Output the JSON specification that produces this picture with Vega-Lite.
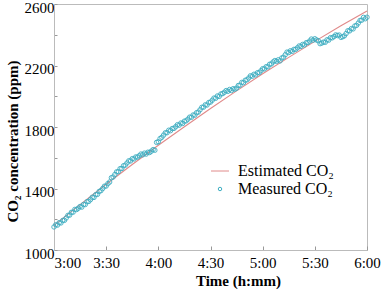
{
  "$schema": "https://vega.github.io/schema/vega-lite/v6.json",
  "width": 313,
  "height": 246,
  "autosize": "none",
  "padding": {"left": 54, "top": 4, "right": 20, "bottom": 41},
  "background": "white",
  "config": {
    "view": {"stroke": "#bbbbbb", "strokeWidth": 1},
    "axis": {
      "grid": false,
      "domainColor": "#bbbbbb",
      "tickColor": "#999999",
      "labelFont": "Liberation Serif",
      "labelFontSize": 15,
      "labelColor": "#000000",
      "titleFont": "Liberation Serif",
      "titleFontSize": 15,
      "titleFontWeight": "bold",
      "titleColor": "#000000"
    }
  },
  "datasets": {
    "estimated": [
      {"time": 180, "co2": 1160}, {"time": 195, "co2": 1295}, {"time": 210, "co2": 1428},
      {"time": 225, "co2": 1556}, {"time": 240, "co2": 1681}, {"time": 255, "co2": 1802},
      {"time": 270, "co2": 1920}, {"time": 285, "co2": 2035}, {"time": 300, "co2": 2146},
      {"time": 315, "co2": 2253}, {"time": 330, "co2": 2357}, {"time": 345, "co2": 2458},
      {"time": 360, "co2": 2555}
    ],
    "measured": [
      {"time":180,"co2":1150},{"time":181,"co2":1164},{"time":182,"co2":1162},{"time":183,"co2":1178},{"time":184,"co2":1176},{"time":185,"co2":1192},{"time":186,"co2":1193},{"time":187,"co2":1208},{"time":188,"co2":1225},{"time":189,"co2":1227},
      {"time":190,"co2":1245},{"time":191,"co2":1246},{"time":192,"co2":1264},{"time":193,"co2":1263},{"time":194,"co2":1272},{"time":195,"co2":1283},{"time":196,"co2":1279},{"time":197,"co2":1296},{"time":198,"co2":1296},{"time":199,"co2":1314},
      {"time":200,"co2":1316},{"time":201,"co2":1328},{"time":202,"co2":1343},{"time":203,"co2":1342},{"time":204,"co2":1360},{"time":205,"co2":1362},{"time":206,"co2":1381},{"time":207,"co2":1386},{"time":208,"co2":1400},{"time":209,"co2":1415},
      {"time":210,"co2":1416},{"time":211,"co2":1432},{"time":212,"co2":1442},{"time":213,"co2":1470},{"time":214,"co2":1475},{"time":215,"co2":1491},{"time":216,"co2":1508},{"time":217,"co2":1510},{"time":218,"co2":1529},{"time":219,"co2":1530},
      {"time":220,"co2":1548},{"time":221,"co2":1552},{"time":222,"co2":1566},{"time":223,"co2":1580},{"time":224,"co2":1579},{"time":225,"co2":1594},{"time":226,"co2":1592},{"time":227,"co2":1605},{"time":228,"co2":1604},{"time":229,"co2":1613},
      {"time":230,"co2":1624},{"time":231,"co2":1619},{"time":232,"co2":1630},{"time":233,"co2":1624},{"time":234,"co2":1636},{"time":235,"co2":1634},{"time":236,"co2":1643},{"time":237,"co2":1653},{"time":238,"co2":1649},{"time":239,"co2":1700},
      {"time":240,"co2":1704},{"time":241,"co2":1725},{"time":242,"co2":1733},{"time":243,"co2":1747},{"time":244,"co2":1762},{"time":245,"co2":1763},{"time":246,"co2":1779},{"time":247,"co2":1776},{"time":248,"co2":1790},{"time":249,"co2":1791},
      {"time":250,"co2":1802},{"time":251,"co2":1815},{"time":252,"co2":1812},{"time":253,"co2":1826},{"time":254,"co2":1823},{"time":255,"co2":1838},{"time":256,"co2":1840},{"time":257,"co2":1851},{"time":258,"co2":1864},{"time":259,"co2":1863},
      {"time":260,"co2":1878},{"time":261,"co2":1877},{"time":262,"co2":1893},{"time":263,"co2":1897},{"time":264,"co2":1912},{"time":265,"co2":1928},{"time":266,"co2":1929},{"time":267,"co2":1944},{"time":268,"co2":1943},{"time":269,"co2":1959},
      {"time":270,"co2":1962},{"time":271,"co2":1974},{"time":272,"co2":1988},{"time":273,"co2":1987},{"time":274,"co2":2002},{"time":275,"co2":1999},{"time":276,"co2":2015},{"time":277,"co2":2017},{"time":278,"co2":2026},{"time":279,"co2":2037},
      {"time":280,"co2":2032},{"time":281,"co2":2044},{"time":282,"co2":2037},{"time":283,"co2":2049},{"time":284,"co2":2046},{"time":285,"co2":2053},{"time":286,"co2":2070},{"time":287,"co2":2072},{"time":288,"co2":2090},{"time":289,"co2":2088},
      {"time":290,"co2":2104},{"time":291,"co2":2107},{"time":292,"co2":2119},{"time":293,"co2":2133},{"time":294,"co2":2130},{"time":295,"co2":2143},{"time":296,"co2":2139},{"time":297,"co2":2153},{"time":298,"co2":2154},{"time":299,"co2":2166},
      {"time":300,"co2":2179},{"time":301,"co2":2178},{"time":302,"co2":2192},{"time":303,"co2":2191},{"time":304,"co2":2208},{"time":305,"co2":2210},{"time":306,"co2":2223},{"time":307,"co2":2232},{"time":308,"co2":2227},{"time":309,"co2":2237},
      {"time":310,"co2":2230},{"time":311,"co2":2249},{"time":312,"co2":2254},{"time":313,"co2":2270},{"time":314,"co2":2287},{"time":315,"co2":2284},{"time":316,"co2":2296},{"time":317,"co2":2292},{"time":318,"co2":2305},{"time":319,"co2":2305},
      {"time":320,"co2":2315},{"time":321,"co2":2327},{"time":322,"co2":2324},{"time":323,"co2":2337},{"time":324,"co2":2334},{"time":325,"co2":2348},{"time":326,"co2":2349},{"time":327,"co2":2359},{"time":328,"co2":2372},{"time":329,"co2":2365},
      {"time":330,"co2":2374},{"time":331,"co2":2366},{"time":332,"co2":2361},{"time":333,"co2":2342},{"time":334,"co2":2346},{"time":335,"co2":2352},{"time":336,"co2":2351},{"time":337,"co2":2367},{"time":338,"co2":2365},{"time":339,"co2":2381},
      {"time":340,"co2":2380},{"time":341,"co2":2388},{"time":342,"co2":2399},{"time":343,"co2":2395},{"time":344,"co2":2398},{"time":345,"co2":2383},{"time":346,"co2":2387},{"time":347,"co2":2393},{"time":348,"co2":2408},{"time":349,"co2":2426},
      {"time":350,"co2":2425},{"time":351,"co2":2440},{"time":352,"co2":2438},{"time":353,"co2":2457},{"time":354,"co2":2461},{"time":355,"co2":2476},{"time":356,"co2":2493},{"time":357,"co2":2495},{"time":358,"co2":2513},{"time":359,"co2":2504},
      {"time":360,"co2":2514}
    ]
  },
  "encoding": {
    "x": {
      "field": "time",
      "type": "quantitative",
      "scale": {"domain": [180, 360], "nice": false, "zero": false},
      "axis": {
        "title": "Time (h:mm)",
        "values": [180, 210, 240, 270, 300, 330, 360],
        "labelExpr": "floor(datum.value / 60) + ':' + (datum.value % 60 < 10 ? '0' : '') + (datum.value % 60)",
        "labelFlush": false,
        "labelAlign": {"condition": {"test": "datum.value == 180", "value": "left"}, "value": "center"},
        "tickSize": -4,
        "labelPadding": 9,
        "titlePadding": 3,
        "titleX": 184,
        "titleAlign": "center"
      }
    },
    "y": {
      "field": "co2",
      "type": "quantitative",
      "scale": {"domain": [1000, 2600], "nice": false, "zero": false},
      "axis": {
        "title": "CO₂ concentration (ppm)",
        "values": [1000, 1200, 1400, 1600, 1800, 2000, 2200, 2400, 2600],
        "labelExpr": "datum.value % 400 == 200 ? datum.label : ''",
        "format": "d",
        "labelFlush": false,
        "labelOffset": 3,
        "tickSize": -3,
        "labelPadding": 3,
        "titleX": -37,
        "titleY": 137,
        "titleAngle": -90,
        "titleBaseline": "alphabetic",
        "titleAlign": "center"
      }
    }
  },
  "layer": [
    {
      "data": {"name": "estimated"},
      "mark": {"type": "line", "strokeWidth": 1.1},
      "encoding": {
        "color": {
          "datum": "Estimated CO₂",
          "scale": {"domain": ["Estimated CO₂", "Measured CO₂"], "range": ["#e08a8a", "#3eaec2"]},
          "legend": {
            "title": null,
            "orient": "none",
            "legendX": 158,
            "legendY": 159,
            "padding": 0,
            "rowPadding": 2,
            "symbolSize": 324,
            "labelOffset": 10,
            "labelFont": "Liberation Serif",
            "labelFontSize": 16,
            "labelColor": "#000000",
            "encode": {
              "symbols": {
                "update": {
                  "shape": {"signal": "datum.value === 'Estimated CO₂' ? 'stroke' : 'circle'"},
                  "size": {"signal": "datum.value === 'Estimated CO₂' ? 324 : 12"},
                  "fill": {"value": "transparent"},
                  "stroke": {"signal": "datum.value === 'Estimated CO₂' ? '#e08a8a' : '#3eaec2'"},
                  "strokeWidth": {"value": 1},
                  "opacity": {"value": 1}
                }
              }
            }
          }
        }
      }
    },
    {
      "data": {"name": "measured"},
      "mark": {"type": "point", "filled": false, "size": 20, "strokeWidth": 1, "opacity": 0.9},
      "encoding": {
        "color": {"datum": "Measured CO₂"}
      }
    }
  ],
  "resolve": {"scale": {"color": "shared"}}
}
